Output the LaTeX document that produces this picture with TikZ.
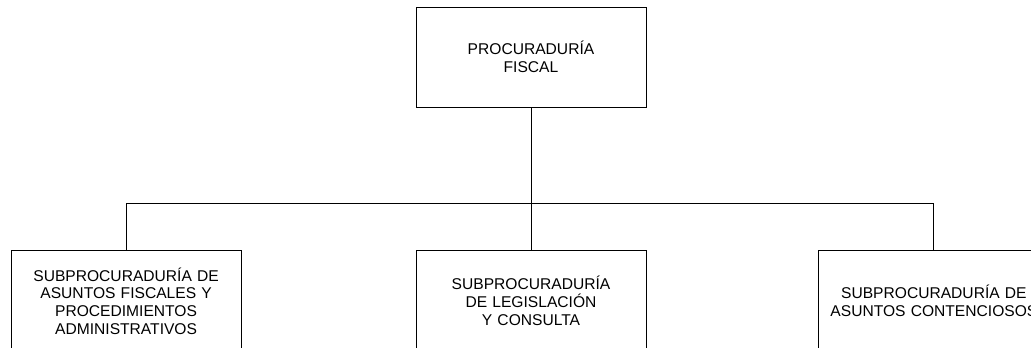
\documentclass[tikz,border=0pt]{standalone}
\usepackage{fontspec}
\setmainfont{Liberation Sans}
\usetikzlibrary{positioning}
\tikzset{
  unidad/.style={
    rectangle,
    draw=black, line width=0.9pt,
    minimum width=230pt,
    minimum height=100pt,
    inner sep=0pt,
    text width=220pt,
    align=center,
    font=\fontsize{15.6}{17.7}\selectfont},
  linea/.style={draw, line width=0.9pt},
}
\begin{document}
\begin{tikzpicture}[x=1pt, y=1pt, node distance=174pt]
    \useasboundingbox (0,0) rectangle (1031,-348);
    \node[unidad] (proc) at (531,-57) {PROCURADURÍA\\FISCAL};
    \coordinate[below=96pt of proc.south] (bus);
    \node[unidad, below=47pt of bus] (subleg) {SUBPROCURADURÍA\\DE LEGISLACIÓN\\Y CONSULTA};
    \node[unidad, left=of subleg] (subfis) {SUBPROCURADURÍA DE\\ASUNTOS FISCALES Y\\PROCEDIMIENTOS\\ADMINISTRATIVOS};
    \node[unidad, right=172pt of subleg] (subcon) {SUBPROCURADURÍA DE\\ASUNTOS CONTENCIOSOS};

    \path[linea] (proc.south) -- (bus);
    \path[linea] (bus) -- (subleg.north);
    \path[linea] (subfis.north) |- (bus) -| (subcon.north);
\end{tikzpicture}
\end{document}
